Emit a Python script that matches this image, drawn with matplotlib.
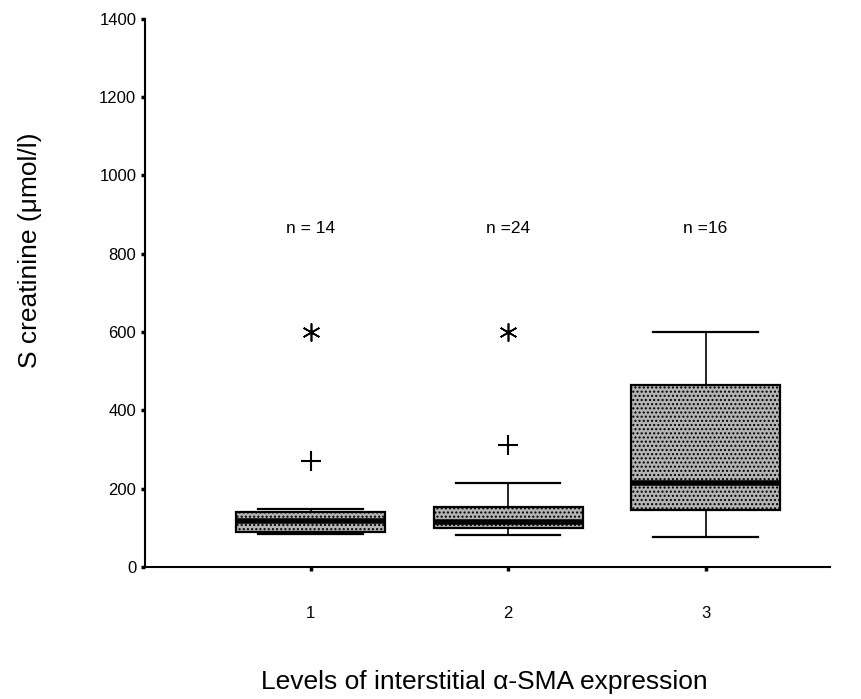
import numpy as np
import matplotlib.pyplot as plt

plt.rcParams['font.family'] = ['Liberation Sans', 'DejaVu Sans']
plt.rcParams['hatch.color'] = '#555555'

# box statistics (umol/l)
groups = [1, 2, 3]
q1 = [90, 100, 146]
med = [116, 114, 214]
q3 = [141, 154, 465]
whislo = [84, 81, 76]
whishi = [148, 215, 601]
extremes = [[601], [601], []]   # asterisks
outliers = [[271], [312], []]   # plus signs
n_labels = ['n = 14', 'n =24', 'n =16']
n_y = 865

stats = []
for i in range(len(groups)):
    stats.append(dict(med=med[i], q1=q1[i], q3=q3[i], whislo=whislo[i],
                      whishi=whishi[i], fliers=[]))

fig = plt.figure(figsize=(8.61, 6.99), dpi=100)
ax = fig.add_axes([0.168, 0.189, 0.796, 0.784])

bp = ax.bxp(stats, positions=groups, widths=0.755, patch_artist=True,
            showfliers=False,
            boxprops=dict(facecolor='#b4b4b4', edgecolor='black', linewidth=1.6),
            medianprops=dict(color='black', linewidth=4),
            whiskerprops=dict(color='black', linewidth=1.2),
            capprops=dict(color='black', linewidth=1.6),
            capwidths=0.53)
for b in bp['boxes']:
    b.set_hatch('....')

for i, x in enumerate(groups):
    if extremes[i]:
        ax.plot([x] * len(extremes[i]), extremes[i], linestyle='none',
                marker=(6, 2, 0), markersize=13, color='black', markeredgewidth=1.2)
    if outliers[i]:
        ax.plot([x] * len(outliers[i]), outliers[i], linestyle='none',
                marker='+', markersize=14, color='black', markeredgewidth=1.5)
    ax.text(x, n_y, n_labels[i], ha='center', va='center', fontsize=12.5)

ax.set_xlim(0.16, 3.63)
ax.set_ylim(0, 1400)
ax.set_yticks(np.arange(0, 1401, 200))
ax.set_xticks(groups)
ax.set_xticklabels([str(g) for g in groups])
ax.spines['top'].set_visible(False)
ax.spines['right'].set_visible(False)
ax.spines['left'].set_linewidth(1.5)
ax.spines['bottom'].set_linewidth(1.5)
ax.tick_params(axis='both', direction='out', length=3, width=2.5, labelsize=12)
ax.tick_params(axis='y', pad=3)
ax.tick_params(axis='x', pad=25)

ax.set_xlabel('Levels of interstitial \u03b1-SMA expression', fontsize=19)
ax.set_ylabel('S creatinine (\u03bcmol/l)', fontsize=19)
ax.xaxis.set_label_coords(0.495, -0.21)
ax.yaxis.set_label_coords(-0.168, 0.578)
ax.xaxis.label.set_va('center')
ax.yaxis.label.set_va('center')

fig.savefig('out.png', dpi=100)
